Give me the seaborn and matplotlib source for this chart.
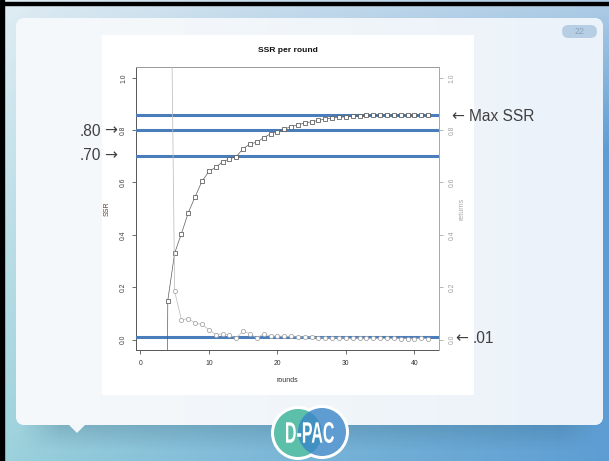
import numpy as np
import pandas as pd
import matplotlib
matplotlib.use("Agg")
import matplotlib.pyplot as plt
import seaborn as sns
from matplotlib.patches import FancyBboxPatch, Rectangle, Polygon, Circle, PathPatch
from matplotlib.textpath import TextPath
from matplotlib.font_manager import FontProperties
from matplotlib.transforms import Affine2D

# ---- data -------------------------------------------------------------
ssr_rounds = list(range(3, 43))
ssr_values = [-5.0, 0.149, 0.330, 0.405, 0.485, 0.546, 0.605, 0.642, 0.658, 0.679,
              0.690, 0.699, 0.729, 0.747, 0.754, 0.771, 0.786, 0.794, 0.804, 0.813,
              0.821, 0.827, 0.832, 0.837, 0.843, 0.846, 0.849, 0.851, 0.854, 0.854,
              0.856, 0.857, 0.857, 0.858, 0.858, 0.858, 0.858, 0.858, 0.858, 0.858]

ret_rounds = list(range(4, 43))
ret_values = [2.5, 0.184, 0.075, 0.080, 0.062, 0.058, 0.037, 0.019, 0.022, 0.016,
              0.006, 0.032, 0.022, 0.005, 0.022, 0.013, 0.013, 0.012, 0.012, 0.009,
              0.010, 0.009, 0.006, 0.006, 0.006, 0.006, 0.006, 0.004, 0.006, 0.004,
              0.004, 0.004, 0.004, 0.004, 0.003, 0.003, 0.003, 0.005, 0.003]

threshold_values = [0.80, 0.70, 0.01]
threshold_labels = [".80", ".70", ".01"]
max_label = "Max SSR"

x_ticks = [0, 10, 20, 30, 40]
y_ticks = [0.0, 0.2, 0.4, 0.6, 0.8, 1.0]

ssr_df = pd.DataFrame({"rounds": ssr_rounds, "SSR": ssr_values})
ret_df = pd.DataFrame({"rounds": ret_rounds, "returns": ret_values})

W, H = 609, 461
fig = plt.figure(figsize=(W / 100, H / 100), dpi=100)

ANN_FONT = ["Liberation Sans", "DejaVu Sans"]
ARROW_FONT = ["DejaVu Sans"]
CHART_FONT = ["Liberation Sans", "DejaVu Sans"]


def fx(x):
    return x / W


def fy(y):
    return 1 - y / H


# ---- slide background (pixel coordinates, y downwards) ----------------
bg = fig.add_axes([0, 0, 1, 1], zorder=0)
bg.set_xlim(0, W)
bg.set_ylim(H, 0)
bg.axis("off")

yy, xx = np.mgrid[0:H, 0:W]
ty = (yy / H)[..., None]
tx = (xx / W)[..., None] ** 0.8
left_top = np.array([226, 238, 244]) / 255
left_bot = np.array([158, 212, 220]) / 255
right_top = np.array([176, 205, 230]) / 255
right_bot = np.array([93, 157, 211]) / 255
ry = np.clip(yy / 150, 0, 1)[..., None]
L = left_top * (1 - ty) + left_bot * ty
R = right_top * (1 - ry) + right_bot * ry
img = L * (1 - tx) + R * tx
bg.imshow(img, extent=(0, W, H, 0), aspect="auto", zorder=0)

# black frame on the left and top
bg.add_patch(Rectangle((0, 0), 4, H, color="black", zorder=1))
bg.add_patch(Rectangle((0, 2), W, 3, color="black", zorder=1))

# soft shadow below the panel
sh = np.zeros((26, 580, 4))
sh[..., :3] = np.array([40, 90, 110]) / 255
a = np.linspace(0.22, 0.0, 26)[:, None] * np.ones((1, 580))
edge = np.minimum(1, np.minimum(np.arange(580), 579 - np.arange(580)) / 40)[None, :]
sh[..., 3] = a * edge
bg.imshow(sh, extent=(20, 600, 451, 425), aspect="auto", zorder=1.5)

# white panel with rounded corners
panel = FancyBboxPatch((16, 18), 587, 407, boxstyle="round,pad=0,rounding_size=9",
                       facecolor="#f2f6fa", edgecolor="none", zorder=2)
bg.add_patch(panel)
pg = np.linspace(0, 1, 200)[None, :, None]
pimg = np.array([246, 249, 251]) / 255 * (1 - pg) + np.array([235, 242, 249]) / 255 * pg
pim = bg.imshow(np.repeat(pimg, 10, axis=0), extent=(16, 603, 425, 18),
                aspect="auto", zorder=2.1)
pim.set_clip_path(panel)
bg.add_patch(Polygon([(68, 424), (86, 424), (77, 433)], closed=True,
                     facecolor="#f3f7fa", edgecolor="none", zorder=2.2))

# page number
bg.add_patch(FancyBboxPatch((562, 25), 35, 13, boxstyle="round,pad=0,rounding_size=6.5",
                            facecolor="#b7cfe5", edgecolor="none", zorder=3))
bg.text(579.5, 31.5, "22", ha="center", va="center", fontsize=6.5,
        color="#8aa3bd", family=ANN_FONT, zorder=4)

# chart canvas
bg.add_patch(Rectangle((102, 35), 372, 360, facecolor="white", edgecolor="none", zorder=3))

# D-PAC logo
for cx, cy in [(298, 433), (322, 432)]:
    bg.add_patch(Circle((cx, cy), 27, facecolor="white", edgecolor="none", zorder=4))
bg.add_patch(Circle((298, 433), 24, facecolor="#5cbfa9", edgecolor="none", zorder=5))
bg.add_patch(Circle((322, 432), 24, facecolor="#3a86c8", edgecolor="none",
                    alpha=0.82, zorder=6))
tp = TextPath((0, 0), "D-PAC", size=10, prop=FontProperties(family="Liberation Sans",
                                                            weight="bold"))
ext = tp.get_extents()
sx = 48 / ext.width
sy = 21 / ext.height
tr = Affine2D().translate(-ext.x0, -ext.y0).scale(sx, -sy).translate(286, 443)
bg.add_patch(PathPatch(tr.transform_path(tp), facecolor="white", edgecolor="none",
                       zorder=7))

# ---- the chart ----------------------------------------------------------
ax_l, ax_r, ax_t, ax_b = 136, 439.3, 67.3, 350
ax = fig.add_axes([fx(ax_l), fy(ax_b), (ax_r - ax_l) / W, (ax_b - ax_t) / H], zorder=2)
ax.set_facecolor("none")

sns.lineplot(data=ssr_df, x="rounds", y="SSR", ax=ax, color="#5a5a5a", linewidth=0.5,
             marker="s", markersize=2.9, markerfacecolor="white",
             markeredgecolor="#555555", markeredgewidth=0.55, zorder=4)

ax2 = ax.twinx()
ax2.set_zorder(3)
ax2.set_facecolor("none")
sns.lineplot(data=ret_df, x="rounds", y="returns", ax=ax2, color="#bdbdbd",
             linewidth=0.55, marker="o", markersize=3.0, markerfacecolor="white",
             markeredgecolor="#a0a0a0", markeredgewidth=0.55, zorder=4)

xlim = (-0.64, 43.64)
ylim = (-0.04, 1.04)
for a_ in (ax, ax2):
    a_.set_xlim(*xlim)
    a_.set_ylim(*ylim)

# threshold lines across the plot region
blue = "#4a7ebb"
max_ssr = max(ssr_values)
for v in [max_ssr] + threshold_values:
    ax.axhline(v, color=blue, linewidth=2.2, zorder=3)

ax.set_xticks(x_ticks)
ax.set_xticklabels([str(t) for t in x_ticks], fontsize=4.9, color="#333333",
                   family=CHART_FONT)
ax.set_yticks(y_ticks)
ax.set_yticklabels([f"{t:.1f}" for t in y_ticks], fontsize=4.9, color="#444444",
                   rotation=90, va="center", family=CHART_FONT)
ax.tick_params(axis="x", direction="out", length=3, width=0.6, color="#555555", pad=4.3)
ax.tick_params(axis="y", direction="out", length=3, width=0.6, color="#555555", pad=3.5)

ax2.set_yticks(y_ticks)
ax2.set_yticklabels([f"{t:.1f}" for t in y_ticks], fontsize=4.9, color="#a0a0a0",
                    rotation=90, va="center", family=CHART_FONT)
ax2.tick_params(axis="y", direction="out", length=3, width=0.6, color="#aaaaaa", pad=3.5)

for s in ("left", "bottom"):
    ax.spines[s].set_color("#555555")
    ax.spines[s].set_linewidth(0.7)
for s in ("top", "right"):
    ax.spines[s].set_color("#999999")
    ax.spines[s].set_linewidth(0.7)
for s in ax2.spines.values():
    s.set_visible(False)
ax2.spines["right"].set_visible(True)
ax2.spines["right"].set_color("#aaaaaa")
ax2.spines["right"].set_linewidth(0.7)

ax.set_xlabel("")
ax.set_ylabel("")
ax2.set_ylabel("")
fig.text(fx(287.7), fy(380.7), "rounds", ha="center", va="center", fontsize=5,
         color="#333333", family=CHART_FONT, zorder=5)
fig.text(fx(107), fy(208.7), "SSR", ha="center", va="center", rotation=90,
         fontsize=5, color="#5a3d33", family=CHART_FONT, zorder=5)
fig.text(fx(461.7), fy(208.7), "returns", ha="center", va="center", rotation=90,
         fontsize=5, color="#a8a8a8", family=CHART_FONT, zorder=5)
fig.text(fx(287.7), fy(50.7), "SSR per round", ha="center", va="center",
         fontsize=6.1, weight="bold", color="#111111", family=CHART_FONT, zorder=5)

# ---- slide annotations -------------------------------------------------
ann = dict(fontsize=11.2, color="#404040", family=ANN_FONT, va="center", zorder=6)
arr = dict(fontsize=11.2, color="#404040", family=ARROW_FONT, va="center", zorder=6)
# Max SSR (arrow pointing left)
fig.text(fx(451), fy(116.5), "\u2190", ha="left", **arr)
fig.text(fx(469), fy(116.5), max_label, ha="left", **ann)
# .80 and .70 (arrows pointing right)
for lab, yc in zip(threshold_labels[:2], [131, 156]):
    fig.text(fx(101), fy(yc), lab, ha="right", **ann)
    fig.text(fx(104), fy(yc), "\u2192", ha="left", **arr)
# .01 (arrow pointing left)
fig.text(fx(455), fy(338.5), "\u2190", ha="left", **arr)
fig.text(fx(473), fy(338.5), threshold_labels[2], ha="left", **ann)

fig.savefig("out.png", dpi=100)
